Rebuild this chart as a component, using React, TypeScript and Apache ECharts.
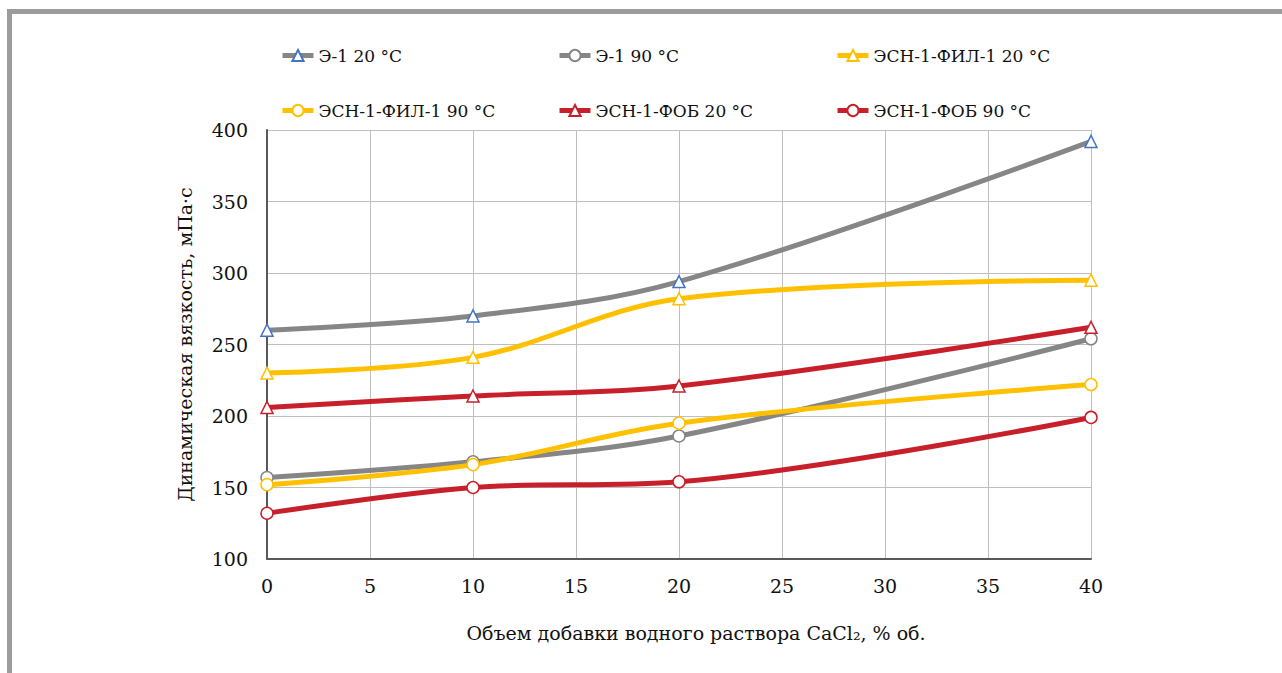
import React, { useEffect, useRef } from "react";
import * as echarts from "echarts";

const xValues = [0, 10, 20, 40];
const e1_20 = [260, 270, 294, 392];
const e1_90 = [157, 168, 186, 254];
const fil_20 = [230, 241, 282, 295];
const fil_90 = [152, 166, 195, 222];
const fob_20 = [206, 214, 221, 262];
const fob_90 = [132, 150, 154, 199];

const names = [
  "Э-1 20 °C",
  "Э-1 90 °C",
  "ЭСН-1-ФИЛ-1 20 °C",
  "ЭСН-1-ФИЛ-1 90 °C",
  "ЭСН-1-ФОБ 20 °C",
  "ЭСН-1-ФОБ 90 °C",
];
const yTicks = { min: 100, max: 400, interval: 50 };
const xTicks = { min: 0, max: 40, interval: 5 };

const GRAY = "#868686";
const YELLOW = "#FFC000";
const RED = "#C8202A";
const BLUE = "#4472C4";
const FONT = "DejaVu Serif";
const TEXT = "#111111";

export default function App() {
  const ref = useRef<HTMLDivElement>(null);
  useEffect(() => {
    if (!ref.current) return;
    const chart = echarts.init(ref.current, undefined, { renderer: "svg" });
    const mk = (
      name: string,
      vals: number[],
      color: string,
      symbol: string,
      border: string
    ) => ({
      name,
      type: "line",
      data: xValues.map((x, i) => [x, vals[i]]),
      smooth: 0.35,
      symbol,
      symbolSize: 12,
      showAllSymbol: true,
      lineStyle: { color, width: 5 },
      itemStyle: { color: "#ffffff", borderColor: border, borderWidth: 1.5 },
      emphasis: { disabled: true },
      z: 3,
    });
    const series = [
      mk(names[0], e1_20, GRAY, "triangle", BLUE),
      mk(names[1], e1_90, GRAY, "circle", GRAY),
      mk(names[2], fil_20, YELLOW, "triangle", YELLOW),
      mk(names[3], fil_90, YELLOW, "circle", YELLOW),
      mk(names[4], fob_20, RED, "triangle", RED),
      mk(names[5], fob_90, RED, "circle", RED),
    ];
    const legPos = [
      [280, 47],
      [557, 47],
      [835, 47],
      [280, 102],
      [557, 102],
      [835, 102],
    ];
    const legend = names.map((n, i) => ({
      data: [n],
      left: legPos[i][0],
      top: legPos[i][1],
      padding: 0,
      itemWidth: 31,
      itemHeight: 14,
      itemGap: 4,
      lineStyle: { width: 5 },
      textStyle: { fontFamily: FONT, fontSize: 17, color: TEXT },
      selectedMode: false,
    }));
    chart.setOption({
      animation: false,
      backgroundColor: "#ffffff",
      legend,
      grid: { left: 267, top: 130, right: 191, bottom: 114 },
      xAxis: {
        type: "value",
        min: xTicks.min,
        max: xTicks.max,
        interval: xTicks.interval,
        axisLine: { show: true, onZero: false, lineStyle: { color: "#595959", width: 2 } },
        axisTick: { show: false },
        splitLine: { show: true, lineStyle: { color: "#BFBFBF", width: 1 } },
        axisLabel: { fontFamily: FONT, fontSize: 19, color: TEXT, margin: 17 },
        name: "Объем добавки водного раствора CaCl₂, % об.",
        nameLocation: "middle",
        nameGap: 64,
        nameTextStyle: {
          fontFamily: FONT,
          fontSize: 19,
          color: TEXT,
          padding: [0, 0, 0, 34],
        },
      },
      yAxis: {
        type: "value",
        min: yTicks.min,
        max: yTicks.max,
        interval: yTicks.interval,
        axisLine: { show: true, lineStyle: { color: "#595959", width: 2 } },
        axisTick: { show: false },
        splitLine: { show: true, lineStyle: { color: "#BFBFBF", width: 1 } },
        axisLabel: { fontFamily: FONT, fontSize: 19, color: TEXT, margin: 19 },
        name: "Динамическая вязкость, мПа·с",
        nameLocation: "middle",
        nameGap: 73,
        nameTextStyle: { fontFamily: FONT, fontSize: 19, color: TEXT },
      },
      graphic: [
        {
          type: "rect",
          shape: { x: 7, y: 9, width: 1290, height: 5 },
          style: { fill: "#9C9C9C" },
          silent: true,
        },
        {
          type: "rect",
          shape: { x: 7, y: 9, width: 5, height: 680 },
          style: { fill: "#9C9C9C" },
          silent: true,
        },
      ],
      series,
    });
    return () => chart.dispose();
  }, []);
  return (
    <div
      ref={ref}
      style={{ position: "fixed", left: 0, top: 0, width: 1282, height: 673 }}
    />
  );
}
